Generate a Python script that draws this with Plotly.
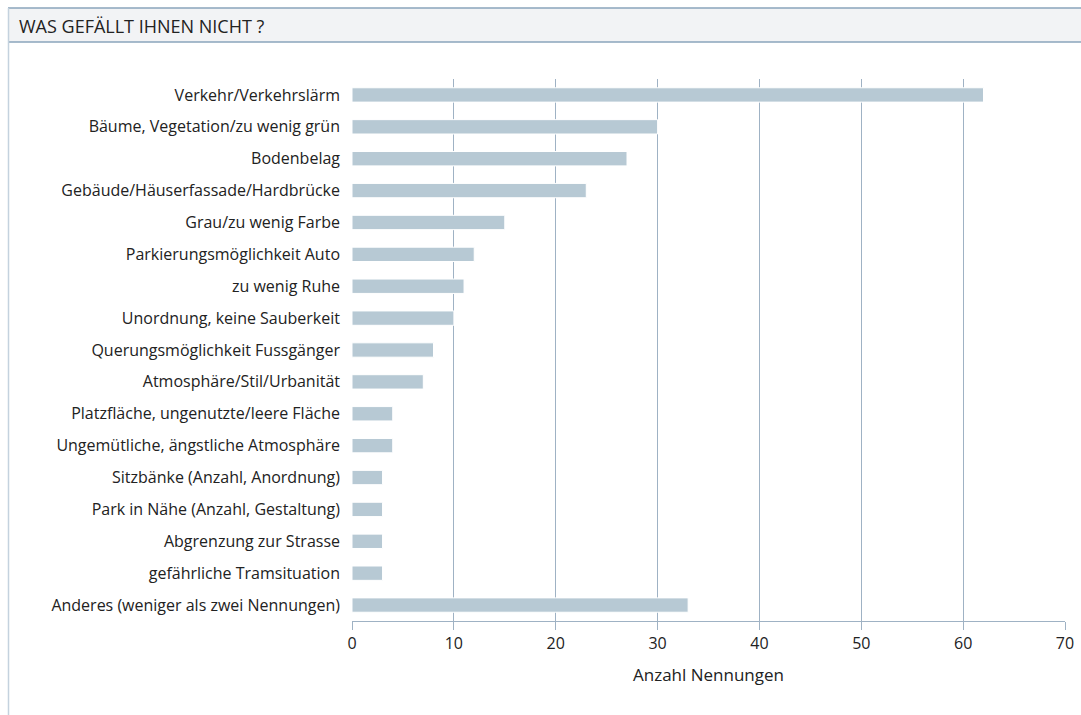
import plotly.graph_objects as go

categories = [
    "Verkehr/Verkehrslärm",
    "Bäume, Vegetation/zu wenig grün",
    "Bodenbelag",
    "Gebäude/Häuserfassade/Hardbrücke",
    "Grau/zu wenig Farbe",
    "Parkierungsmöglichkeit Auto",
    "zu wenig Ruhe",
    "Unordnung, keine Sauberkeit",
    "Querungsmöglichkeit Fussgänger",
    "Atmosphäre/Stil/Urbanität",
    "Platzfläche, ungenutzte/leere Fläche",
    "Ungemütliche, ängstliche Atmosphäre",
    "Sitzbänke (Anzahl, Anordnung)",
    "Park in Nähe (Anzahl, Gestaltung)",
    "Abgrenzung zur Strasse",
    "gefährliche Tramsituation",
    "Anderes (weniger als zwei Nennungen)",
]
values = [62, 30, 27, 23, 15, 12, 11, 10, 8, 7, 4, 4, 3, 3, 3, 3, 33]
x_ticks = [0, 10, 20, 30, 40, 50, 60, 70]
title_text = "WAS GEFÄLLT IHNEN NICHT ?"
x_title = "Anzahl Nennungen"

W, H = 1081, 715
L, R, T, B = 352, 16, 79, 94
pw, ph = W - L - R, H - T - B

def px(x):
    return (x - L) / pw

def py(y):
    return (H - B - y) / ph

FONT = "Open Sans"
GRID = "#9fb2c4"
TXT = "#222222"

fig = go.Figure(go.Bar(
    x=values, y=categories, orientation="h",
    marker=dict(color="#b7c9d4", line=dict(color="white", width=1)),
    hoverinfo="x+y",
))

fig.update_layout(
    width=W, height=H,
    margin=dict(l=L, r=R, t=T, b=B, autoexpand=False),
    paper_bgcolor="white", plot_bgcolor="white",
    bargap=0.55,
    showlegend=False,
    font=dict(family=FONT, size=16, color=TXT),
    xaxis=dict(
        range=[0, 70], tickvals=x_ticks, ticktext=[str(v) for v in x_ticks],
        showgrid=True, gridcolor=GRID, gridwidth=1,
        zeroline=False, showline=True, linecolor=GRID, linewidth=1,
        ticks="outside", ticklen=8, tickcolor=GRID,
        tickfont=dict(size=16, color=TXT),
        title=dict(text=x_title, font=dict(size=17, color=TXT), standoff=15),
        automargin=False,
        fixedrange=True,
    ),
    yaxis=dict(
        autorange="reversed", showgrid=False, zeroline=False,
        showline=False, ticks="", ticklabelstandoff=11,
        tickfont=dict(size=16, color=TXT),
        automargin=False,
        fixedrange=True,
    ),
    shapes=[
        dict(type="rect", xref="paper", yref="paper",
             x0=px(8), x1=px(1095), y0=py(42), y1=py(8),
             fillcolor="#f2f3f5", line=dict(width=0), layer="below"),
        dict(type="line", xref="paper", yref="paper",
             x0=px(8), x1=px(1095), y0=py(8), y1=py(8),
             line=dict(color="#8aa4bb", width=1.5)),
        dict(type="line", xref="paper", yref="paper",
             x0=px(8), x1=px(1095), y0=py(42), y1=py(42),
             line=dict(color="#8aa4bb", width=1.5)),
        dict(type="line", xref="paper", yref="paper",
             x0=px(8.5), x1=px(8.5), y0=py(8), y1=py(716),
             line=dict(color="#c4d2de", width=1.5)),
    ],
    annotations=[
        dict(text=title_text, xref="paper", yref="paper",
             x=px(17), y=py(26), xanchor="left", yanchor="middle",
             showarrow=False, font=dict(family=FONT, size=18, color=TXT)),
    ],
)

fig.write_html(
    "out.html",
    config={"displayModeBar": False},
    post_script="document.body.style.margin='0';document.body.style.overflow='hidden';",
)
